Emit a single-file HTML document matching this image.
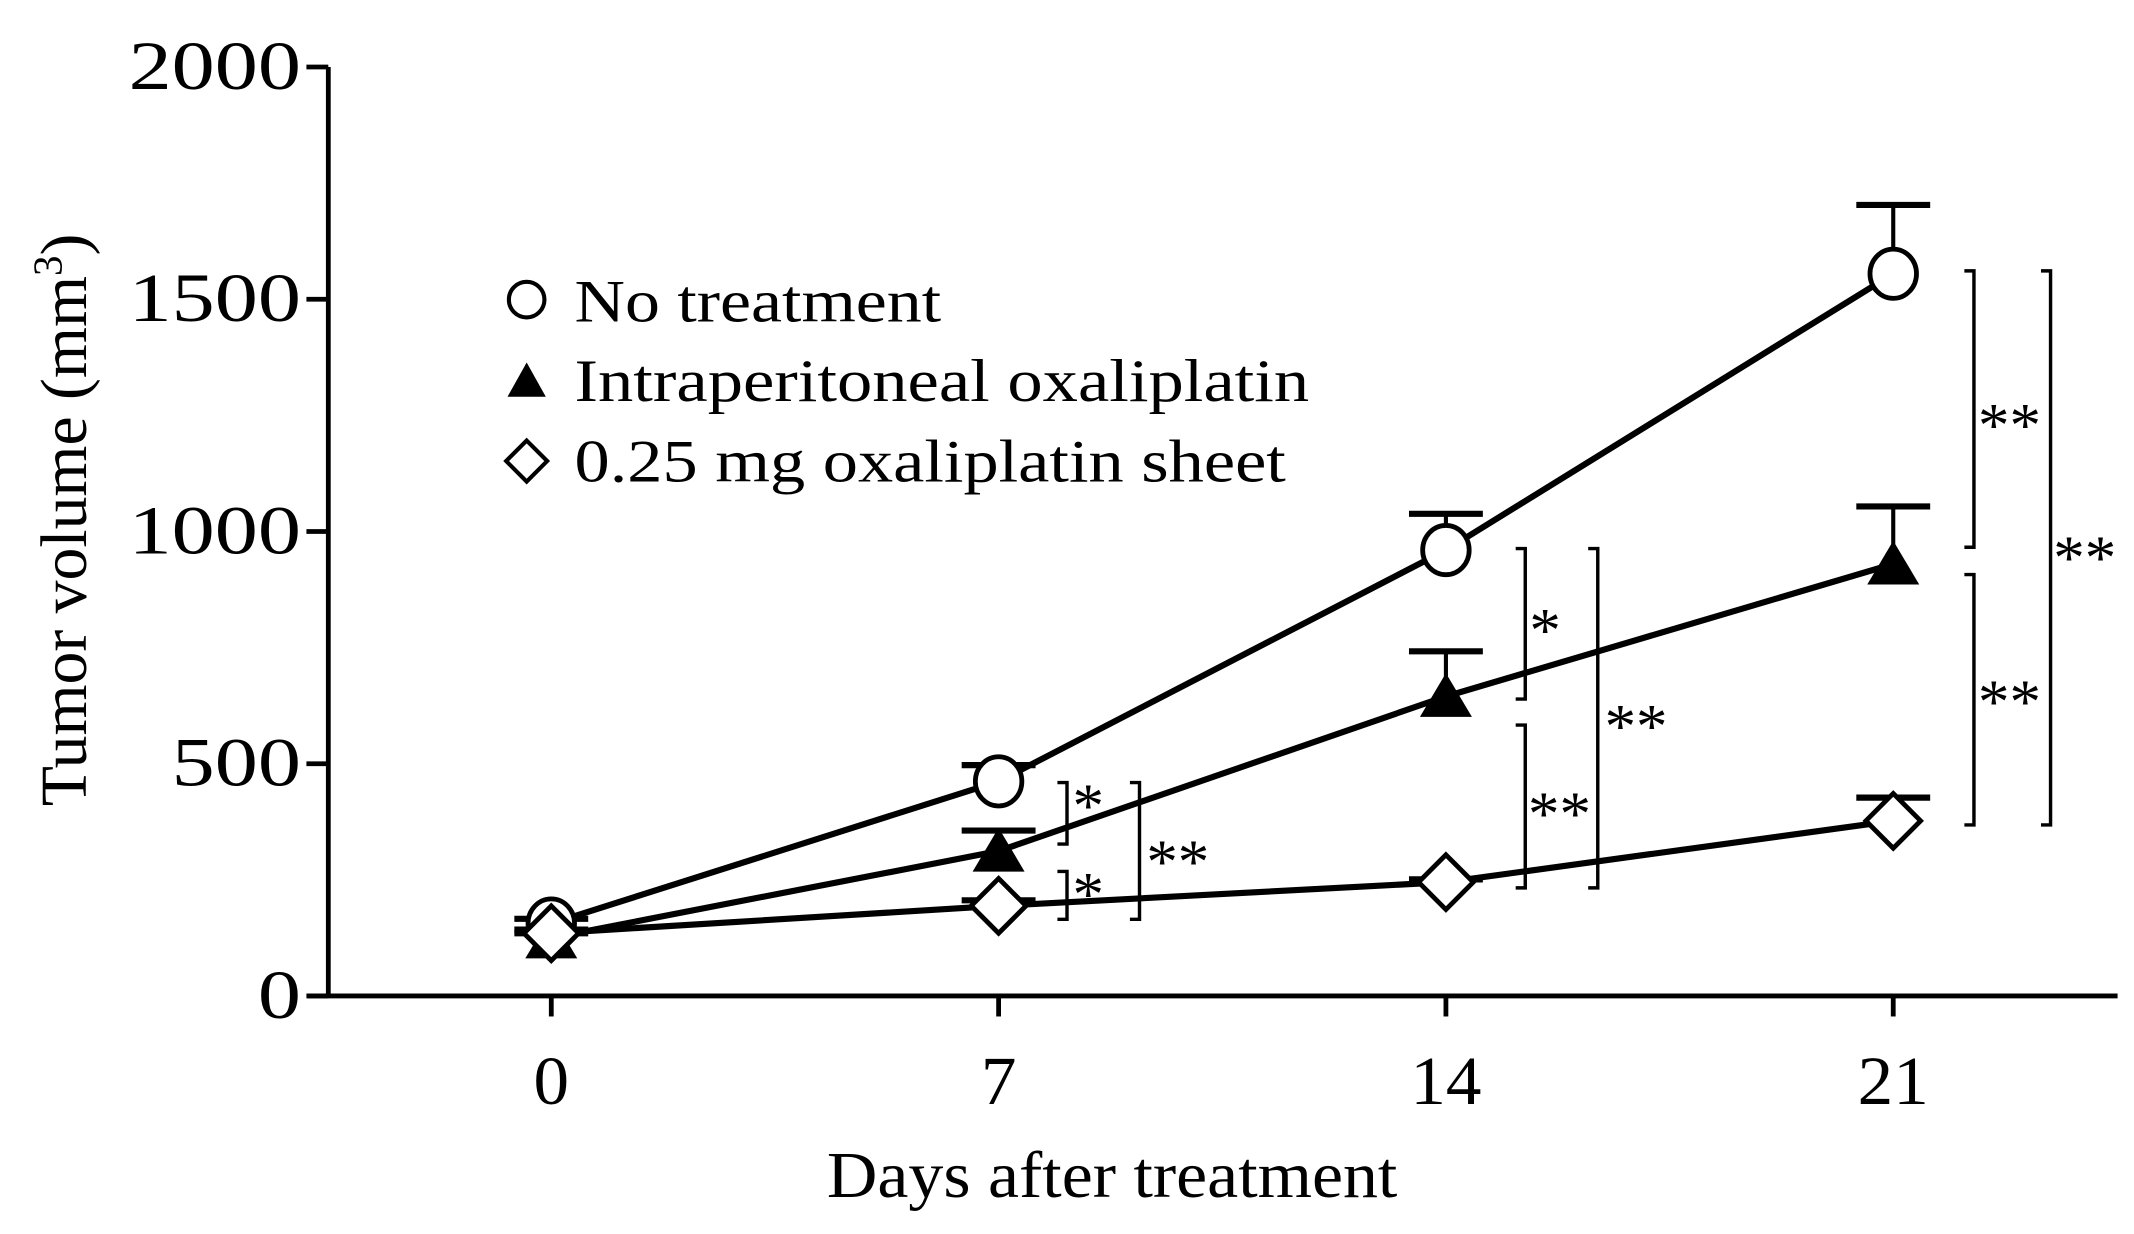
<!DOCTYPE html>
<html><head><meta charset="utf-8">
<style>
html,body{margin:0;padding:0;background:#fff;}
svg{display:block;}
text{font-family:"Liberation Serif",serif;fill:#000;}
</style></head>
<body>
<svg id="chart" width="2134" height="1234" viewBox="0 0 1560 902" preserveAspectRatio="none" xmlns="http://www.w3.org/2000/svg">
<g id="axes"></g>
<g id="lines"></g>
<g id="errs"></g>
<g id="marks"></g>
<g id="sig"></g>
<g id="legend">
  <circle cx="385" cy="219" r="13" fill="#fff" stroke="#000" stroke-width="3"/>
  <text x="420" y="235" font-size="44" textLength="268" lengthAdjust="spacingAndGlyphs">No treatment</text>
  <polygon points="385,265 399,290 371,290" fill="#000"/>
  <text x="420" y="293" font-size="44" textLength="537" lengthAdjust="spacingAndGlyphs">Intraperitoneal  oxaliplatin</text>
  <polygon points="385,322 400,337 385,352 370,337" fill="#fff" stroke="#000" stroke-width="3"/>
  <text x="420" y="352" font-size="44" textLength="520" lengthAdjust="spacingAndGlyphs">0.25 mg oxaliplatin  sheet</text>
</g>
</svg>
<script>
const days = [0, 7, 14, 21];
const yTicks = [0, 500, 1000, 1500, 2000];
const xTickLabels = ["0", "7", "14", "21"];
const noTreatment = [156, 462, 960, 1555];
const noTreatmentErr = [10, 35, 78, 148];
const ipOxali = [125, 312, 645, 930];
const ipOxaliErr = [10, 44, 97, 124];
const sheet = [135, 194, 245, 377];
const sheetErr = [8, 12, 6, 50];

const NS = "http://www.w3.org/2000/svg";
const X0 = 403, XPD = (1384 - 403) / 21;
const Y0 = 728, YPU = (728 - 49) / 2000;
const xs = d => X0 + d * XPD;
const ys = v => Y0 - v * YPU;
function mk(tag, attrs, parent, txt) {
  const e = document.createElementNS(NS, tag);
  for (const k in attrs) e.setAttribute(k, attrs[k]);
  if (txt !== undefined) e.textContent = txt;
  parent.appendChild(e);
  return e;
}
const axes = document.getElementById('axes');
let a = mk('line', {x1: 240, y1: 49, x2: 240, y2: 728, stroke: '#000', 'stroke-width': 3.5}, axes);


a = mk('line', {x1: 225, y1: 728, x2: 1548, y2: 728, stroke: '#000', 'stroke-width': 3.5}, axes);


yTicks.forEach(v => {
  const t = mk('line', {x1: 224, y1: ys(v), x2: 240, y2: ys(v), stroke: '#000', 'stroke-width': 3.5}, axes);
  
  
  const s = String(v);
  const l = mk('text', {x: 220, y: ys(v) + 16, 'font-size': 50, 'text-anchor': 'end', textLength: s.length * 31.5, lengthAdjust: 'spacingAndGlyphs'}, axes, s);
  
  
});
days.forEach((d, i) => {
  const t = mk('line', {x1: xs(d), y1: 728, x2: xs(d), y2: 743, stroke: '#000', 'stroke-width': 3.5}, axes);
  
  
  const s = xTickLabels[i];
  const l = mk('text', {x: xs(d), y: 807, 'font-size': 50, 'text-anchor': 'middle', textLength: s.length * 26, lengthAdjust: 'spacingAndGlyphs'}, axes, s);
  
  
});
let tt = mk('text', {x: 813, y: 875, 'font-size': 48, 'text-anchor': 'middle', textLength: 417, lengthAdjust: 'spacingAndGlyphs'}, axes, 'Days after treatment');


tt = mk('text', {x: 0, y: 0, 'font-size': 48, 'text-anchor': 'middle', transform: 'translate(63,380) rotate(-90)'}, axes);


tt.appendChild(document.createTextNode('Tumor volume (mm'));
mk('tspan', {'font-size': 30, dy: -18}, tt, '3');
mk('tspan', {dy: 18}, tt, ')');

const series = [
  {name: 'no-treatment', vals: noTreatment, err: noTreatmentErr, shape: 'circle'},
  {name: 'ip-oxaliplatin', vals: ipOxali, err: ipOxaliErr, shape: 'tri'},
  {name: 'oxaliplatin-sheet', vals: sheet, err: sheetErr, shape: 'diamond'}
];
const lines = document.getElementById('lines'), errs = document.getElementById('errs'), marks = document.getElementById('marks');
series.forEach(s => {
  const pl = mk('polyline', {points: days.map((d, i) => xs(d) + ',' + ys(s.vals[i])).join(' '), fill: 'none', stroke: '#000', 'stroke-width': 4.5}, lines);
  
  
  days.forEach((d, i) => {
    const x = xs(d), y = ys(s.vals[i]), ye = ys(s.vals[i] + s.err[i]);
    const g = mk('g', {}, errs);
    
    
    mk('line', {x1: x, y1: y, x2: x, y2: ye, stroke: '#000', 'stroke-width': 3}, g);
    mk('line', {x1: x - 27, y1: ye, x2: x + 27, y2: ye, stroke: '#000', 'stroke-width': 4.5}, g);
    let m;
    if (s.shape === 'circle') m = mk('ellipse', {cx: x, cy: y, rx: 17, ry: 18, fill: '#fff', stroke: '#000', 'stroke-width': 3.5}, marks);
    else if (s.shape === 'tri') m = mk('polygon', {points: `${x},${y - 17} ${x + 19},${y + 15} ${x - 19},${y + 15}`, fill: '#000'}, marks);
    else m = mk('polygon', {points: `${x},${y - 20} ${x + 20},${y} ${x},${y + 20} ${x - 20},${y}`, fill: '#fff', stroke: '#000', 'stroke-width': 3.5}, marks);
    
    
  });
});

const sig = document.getElementById('sig');
function bracket(x, y1, y2, label, lx, ly) {
  const g = mk('g', {}, sig);
  
  
  mk('polyline', {points: `${x - 7},${y1} ${x},${y1} ${x},${y2} ${x - 7},${y2}`, fill: 'none', stroke: '#000', 'stroke-width': 2.5}, g);
  mk('text', {x: lx, y: ly, 'font-size': 46}, g, label);
}
bracket(780, 572, 617, '*', 784, 604);
bracket(780, 637, 672, '*', 784, 669);
bracket(833, 572, 672, '**', 838, 645);
bracket(1115, 401, 511, '*', 1118, 476);
bracket(1115, 530, 649, '**', 1117, 610);
bracket(1168, 401, 649, '**', 1173, 546);
bracket(1443, 198, 400, '**', 1446, 326);
bracket(1443, 420, 603, '**', 1446, 528);
bracket(1499, 198, 603, '**', 1501, 423);
</script>
</body></html>
